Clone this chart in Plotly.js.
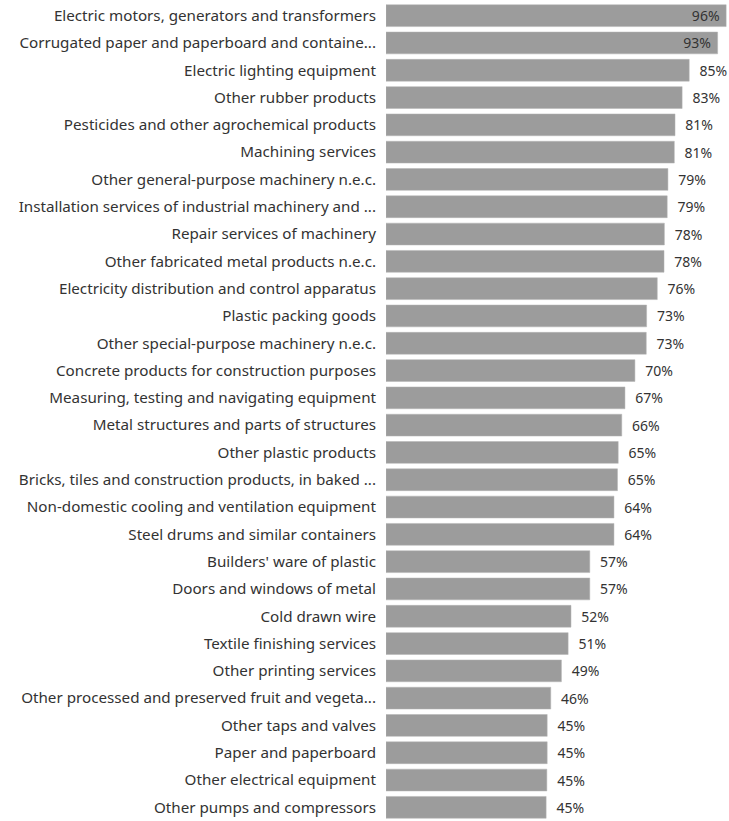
<!DOCTYPE html>
<html>
<head>
<meta charset="utf-8">
<script src="https://cdn.plot.ly/plotly-3.0.1.min.js"></script>
<style>html,body{margin:0;padding:0;background:#fff;}#chart{width:729px;height:821px;}</style>
</head>
<body>
<div id="chart"></div>
<script>
const categories = [
  "Electric motors, generators and transformers",
  "Corrugated paper and paperboard and containe...",
  "Electric lighting equipment",
  "Other rubber products",
  "Pesticides and other agrochemical products",
  "Machining services",
  "Other general-purpose machinery n.e.c.",
  "Installation services of industrial machinery and ...",
  "Repair services of machinery",
  "Other fabricated metal products n.e.c.",
  "Electricity distribution and control apparatus",
  "Plastic packing goods",
  "Other special-purpose machinery n.e.c.",
  "Concrete products for construction purposes",
  "Measuring, testing and navigating equipment",
  "Metal structures and parts of structures",
  "Other plastic products",
  "Bricks, tiles and construction products, in baked ...",
  "Non-domestic cooling and ventilation equipment",
  "Steel drums and similar containers",
  "Builders' ware of plastic",
  "Doors and windows of metal",
  "Cold drawn wire",
  "Textile finishing services",
  "Other printing services",
  "Other processed and preserved fruit and vegeta...",
  "Other taps and valves",
  "Paper and paperboard",
  "Other electrical equipment",
  "Other pumps and compressors"
];
// bar lengths (shown rounded in the labels)
const values = [95.8, 93.4, 85.4, 83.4, 81.4, 81.2, 79.4, 79.2, 78.4, 78.3, 76.4, 73.4, 73.3, 70.1, 67.3, 66.4, 65.4, 65.2, 64.2, 64.2, 57.4, 57.4, 52.1, 51.3, 49.4, 46.4, 45.4, 45.4, 45.3, 45.1];
const valueLabels = ["96%", "93%", "85%", "83%", "81%", "81%", "79%", "79%", "78%", "78%", "76%", "73%", "73%", "70%", "67%", "66%", "65%", "65%", "64%", "64%", "57%", "57%", "52%", "51%", "49%", "46%", "45%", "45%", "45%", "45%"];
const insideCount = 2;

const labelPositions = values.map((v, i) => i < insideCount ? "inside" : "outside");
const labelText = valueLabels.map((t, i) => i < insideCount ? t + "\u00a0" : "\u00a0\u00a0" + t);

const font = "Noto Sans, Segoe UI, sans-serif";
Plotly.newPlot("chart", [{
  type: "bar",
  orientation: "h",
  y: categories,
  x: values,
  text: labelText,
  textposition: labelPositions,
  insidetextanchor: "end",
  constraintext: "none",
  textangle: 0,
  cliponaxis: false,
  insidetextfont: {family: font, size: 14, color: "#333333"},
  outsidetextfont: {family: font, size: 14, color: "#333333"},
  marker: {color: "#9c9c9c", line: {color: "#b5b5b5", width: 0.5}},
  hoverinfo: "none"
}], {
  width: 729,
  height: 821,
  margin: {l: 386, r: 0, t: 2, b: 0},
  bargap: 0.2,
  showlegend: false,
  paper_bgcolor: "#ffffff",
  plot_bgcolor: "#ffffff",
  font: {family: font, size: 14, color: "#333333"},
  xaxis: {range: [0, 96.6], visible: false, fixedrange: true},
  yaxis: {autorange: "reversed", type: "category", showgrid: false, zeroline: false, showline: false,
          ticks: "", ticklabelstandoff: 9, tickfont: {family: font, size: 15.2, color: "#333333"}, fixedrange: true}
}, {displayModeBar: false, staticPlot: true});
</script>
</body>
</html>
